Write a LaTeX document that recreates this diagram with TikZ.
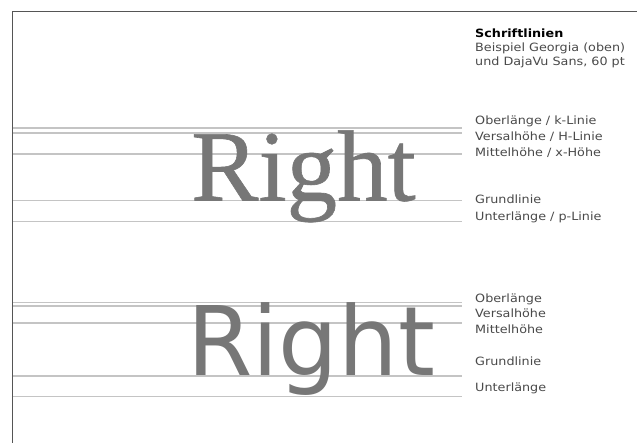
\documentclass[tikz,border=0pt]{standalone}
\usepackage{fontspec}
\setmainfont{DejaVu Sans}
\newfontfamily\labelfont[FakeStretch=1.12]{DejaVu Sans}
\newfontfamily\serifright[FakeBold=0.6]{Liberation Serif}
\newfontfamily\sansright{DejaVu Sans}
\definecolor{framec}{HTML}{555555}
\definecolor{guidec}{HTML}{C4C4C4}
\definecolor{glyphc}{HTML}{777777}
\definecolor{labelc}{HTML}{4A4A4A}
\tikzset{
  framestyle/.style={draw=framec, line width=1.4pt},
  guide/.style={draw=guidec, line width=1.4pt},
  labeltext/.style={anchor=west, inner sep=0pt, text=labelc, font=\labelfont\fontsize{11.4}{13}\selectfont},
  bigword/.style={anchor=base west, inner sep=0pt, text=glyphc}
}
\begin{document}
\begin{tikzpicture}[x=1pt,y=-1pt]
\useasboundingbox (0,0) rectangle (637,443);
\fill[white] (0,0) rectangle (637,443);
% guide lines
\foreach \yy in {128,133,154,200.5,221.5,302.5,306,323,376,396.5}
  \draw[guide] (12,\yy) -- (462,\yy);
% sample words
\node[bigword, font=\serifright\fontsize{101}{101}\selectfont] (serifword) at (191,200.5) {Right};
\node[bigword, xscale=0.98, transform shape, font=\sansright\fontsize{96}{96}\selectfont] (sansword) at (187,376) {Right};
% frame
\draw[framestyle] (12.5,443) -- (12.5,11.5) -- (637,11.5);
% heading
\node[labeltext, text=black, font=\labelfont\bfseries\fontsize{11.4}{13}\selectfont] (h1) at (475,33) {Schriftlinien};
\node[labeltext] (h2) at (475,48) {Beispiel Georgia (oben)};
\node[labeltext] (h3) at (475,62.5) {und DajaVu Sans, 60 pt};
% labels top
\node[labeltext] (l1) at (475,121) {Oberlänge / k-Linie};
\node[labeltext] (l2) at (475,136.7) {Versalhöhe / H-Linie};
\node[labeltext] (l3) at (475,153) {Mittelhöhe / x-Höhe};
\node[labeltext] (l4) at (475,199) {Grundlinie};
\node[labeltext] (l5) at (475,217) {Unterlänge / p-Linie};
% labels bottom
\node[labeltext] (m1) at (475,299) {Oberlänge};
\node[labeltext] (m2) at (475,313.5) {Versalhöhe};
\node[labeltext] (m3) at (475,329) {Mittelhöhe};
\node[labeltext] (m4) at (475,361.5) {Grundlinie};
\node[labeltext] (m5) at (475,388) {Unterlänge};
\end{tikzpicture}
\end{document}
